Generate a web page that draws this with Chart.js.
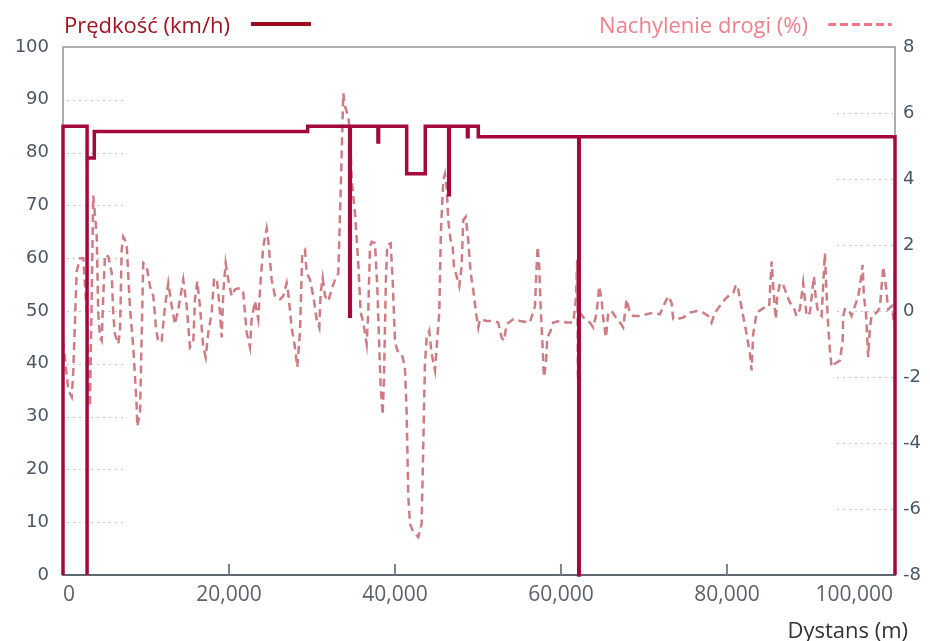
<!DOCTYPE html>
<html>
<head>
<meta charset="utf-8">
<script src="https://cdn.jsdelivr.net/npm/chart.js@4/dist/chart.umd.min.js"></script>
<style>
  body { margin: 0; background: #fff; }
  #wrap { position: relative; width: 930px; height: 641px; }
  .leg { position: absolute; top: 9px; font-family: "Open Sans"; font-size: 22px; display: flex; align-items: center; white-space: nowrap; }
  #legSpeed { left: 64px; color: #a0141f; }
  #legSpeed .smp { width: 60px; height: 4px; background: #9c0b20; margin-left: 21px; }
  #legGrade { right: 38px; color: #f07f8c; }
  #legGrade .smp { width: 64px; height: 3px; margin-left: 20px; background: repeating-linear-gradient(to right, #f27585 0 8px, transparent 8px 12px); border-radius: 2px; }
  #xTitle { position: absolute; right: 22px; top: 614px; font-family: "Open Sans"; font-size: 22px; color: #333; }
</style>
</head>
<body>
<div id="wrap">
  <canvas id="grafico" width="930" height="641"></canvas>
  <div class="leg" id="legSpeed"><span>Prędkość (km/h)</span><div class="smp"></div></div>
  <div class="leg" id="legGrade"><span>Nachylenie drogi (%)</span><div class="smp"></div></div>
  <div id="xTitle">Dystans (m)</div>
</div>
<script>
// tick labels
const xTicks = [0, 20000, 40000, 60000, 80000, 100000];
const speedTicks = [0, 10, 20, 30, 40, 50, 60, 70, 80, 90, 100];
const gradeTicks = [-8, -6, -4, -2, 0, 2, 4, 6, 8];

// speed (km/h), each value holds until the next distance
const speedDist = [0, 0, 2900, 2900, 3770, 29480, 34540, 34620, 37950, 38030, 41410, 43650, 46470, 46550, 48730, 48810, 50040, 62140, 62200, 100250];
const speedVal  = [0, 85, 0, 79, 84, 85, 49, 85, 82, 85, 76, 85, 72, 85, 83, 85, 83, 0, 83, 0];

// road gradient (%)
const gradeDist = [0,640,1050,1240,1650,2050,2450,2860,3050,3250,
  3650,4060,4250,4460,4660,4860,5060,5460,5870,6060,
  6260,6660,6870,7070,7260,7670,7870,8070,8470,8880,
  8950,9280,9670,10080,10480,10880,11200,11480,11890,12290,
  12690,13100,13490,13890,14490,14900,15300,15700,15900,16180,
  16500,16900,17190,17510,17920,18190,18520,18710,18920,19120,
  19310,19600,19920,20320,20720,21330,21720,22130,22530,22730,
  23130,23530,23820,24130,24540,24730,25140,25540,26140,26540,
  26950,27140,27550,27950,28230,28550,28830,29160,29360,29760,
  30160,30560,30880,31050,31290,31570,31960,32370,32770,33170,
  33460,33770,33980,34370,34580,34780,35180,35580,35870,36180,
  36590,36780,36990,37190,37590,37870,38110,38280,38520,38670,
  38910,39070,39480,39720,40000,40280,40810,41200,41410,41600,
  41810,42200,42810,43210,43410,43610,43820,44130,44420,44820,
  45020,45340,45540,45820,46020,46230,46420,46710,46950,47110,
  47430,47750,48030,48230,48520,48830,49120,49430,49760,50040,
  50240,51050,51840,52440,52850,53130,53460,54250,55060,56260,
  56870,57070,57190,57380,57550,57790,57950,58190,58350,58670,
  59070,59880,60680,61480,61800,61960,62050,62080,62290,62890,
  63490,63890,64300,64610,64900,65100,65420,65700,66100,66500,
  67110,67500,67910,68310,68710,69520,70320,71120,71930,72530,
  72930,73330,73530,73940,74730,75540,76340,77140,77740,78150,
  78550,79150,79760,80360,80760,81090,81360,81570,81960,82370,
  82770,82970,83160,83580,84180,84780,85090,85260,85380,85580,
  85780,85900,86060,86390,86780,87190,87590,87990,88390,88790,
  89190,89390,89600,90000,90480,90720,91000,91410,91800,92000,
  92210,92410,92610,93010,93610,93940,94010,94210,94620,95020,
  95420,95820,96020,96350,96500,96750,97020,97230,97430,98030,
  98430,98830,99160,99430,99840,100240];
const gradeVal = [-0.9,-2.4,-2.6,-1.8,1.2,1.6,1.6,-0.1,-1.6,-2.9,
  3.5,2.3,-0.1,-0.8,-0.9,0.5,1.7,1.65,1.15,-0.1,
  -0.7,-1.0,-0.6,1.85,2.25,2.05,1.05,0.1,-1.1,-2.9,
  -3.5,-3.1,1.45,1.35,0.75,0.45,-0.5,-0.95,-0.9,0.15,
  0.85,0.15,-0.4,0.05,0.95,0.15,-1.1,-0.95,0.35,0.9,
  0.15,-1.1,-1.4,-0.65,-0.05,0.95,1.0,0.55,-0.05,-0.8,
  0.55,1.45,0.95,0.45,0.65,0.7,0.55,-0.65,-1.1,-0.25,
  0.3,-0.25,0.95,1.95,2.5,2.15,0.95,0.45,0.35,0.45,
  0.85,0.55,-0.5,-1.1,-1.7,-0.65,1.75,1.85,1.15,0.95,
  0.45,-0.25,-0.5,0.55,1.0,0.45,0.3,0.65,0.95,1.15,
  3.65,6.6,6.2,5.9,5.4,4.0,2.95,1.45,-0.05,-0.35,
  -1.0,-0.05,1.95,2.1,2.05,0.75,-1.1,-2.3,-3.15,-2.1,
  0.95,2.0,2.05,0.95,-0.9,-1.2,-1.3,-1.7,-3.1,-5.6,
  -6.45,-6.7,-6.85,-6.45,-4.1,-1.6,-0.8,-0.6,-1.3,-1.8,
  -1.1,-0.05,2.45,3.95,4.15,3.75,2.75,2.15,1.95,1.35,
  1.05,0.75,1.35,2.75,2.85,2.15,1.15,0.65,-0.05,-0.5,
  -0.25,-0.3,-0.3,-0.35,-0.8,-0.9,-0.4,-0.25,-0.3,-0.35,
  0.15,1.35,1.95,1.35,0.15,-1.1,-2.0,-1.6,-0.8,-0.65,
  -0.35,-0.3,-0.35,-0.35,0.35,1.55,-2.1,0.35,-0.05,-0.25,
  -0.35,-0.5,-0.05,0.75,0.35,-0.25,-0.8,-0.05,0,-0.15,
  -0.35,-0.5,0.35,-0.05,-0.15,-0.15,-0.1,-0.05,-0.1,0.25,
  0.45,0.25,-0.25,-0.25,-0.2,-0.05,0,-0.05,-0.15,-0.35,
  -0.05,0.15,0.35,0.5,0.55,0.8,0.65,0.35,-0.15,-0.7,
  -1.3,-1.8,-0.7,-0.05,0.05,0.15,0.15,0.95,1.5,0.75,
  0.05,-0.25,0.45,0.85,0.8,0.5,0.25,0.15,-0.15,0.05,
  0.85,0.35,-0.15,-0.05,1.05,0.35,-0.05,-0.15,1.75,0.55,
  -0.5,-1.2,-1.7,-1.6,-1.5,-0.9,-0.15,0.05,0.05,-0.15,
  0.15,0.45,0.75,1.4,0.45,-0.05,-1.4,-0.5,-0.15,-0.05,
  0.1,1.35,0.75,0.05,0.15,-0.5];

const speedData = speedDist.map((d, i) => ({ x: d, y: speedVal[i] }));
const gradeData = gradeDist.map((d, i) => ({ x: d, y: gradeVal[i] }));

// box, short dotted grid stubs and x tick marks
const frame = {
  id: 'frame',
  beforeDatasetsDraw(chart) {
    const { ctx, chartArea: a, scales } = chart;
    ctx.save();
    ctx.strokeStyle = '#bfc4c9';
    ctx.lineWidth = 1;
    ctx.setLineDash([2, 4]);
    speedTicks.slice(1, -1).forEach(v => {
      const y = Math.round(scales.y.getPixelForValue(v)) + 0.5;
      ctx.beginPath(); ctx.moveTo(a.left + 4, y); ctx.lineTo(a.left + 60, y); ctx.stroke();
    });
    gradeTicks.slice(1, -1).forEach(v => {
      const y = Math.round(scales.y1.getPixelForValue(v)) + 0.5;
      ctx.beginPath(); ctx.moveTo(a.right - 58, y); ctx.lineTo(a.right - 2, y); ctx.stroke();
    });
    ctx.setLineDash([]);
    ctx.strokeStyle = '#8d949c';
    ctx.lineWidth = 1.5;
    ctx.beginPath();
    ctx.moveTo(a.left, a.bottom); ctx.lineTo(a.left, a.top); ctx.lineTo(a.right, a.top); ctx.lineTo(a.right, a.bottom);
    ctx.stroke();
    ctx.strokeStyle = '#7b828a';
    ctx.lineWidth = 2;
    xTicks.slice(1, -1).forEach(v => {
      const x = scales.x.getPixelForValue(v);
      ctx.beginPath(); ctx.moveTo(x, a.bottom - 11); ctx.lineTo(x, a.bottom); ctx.stroke();
    });
    ctx.restore();
  }
};

const tickFontY = { family: 'DejaVu Sans', size: 18 };

new Chart(document.getElementById('grafico').getContext('2d'), {
  type: 'line',
  data: {
    datasets: [{
      label: 'Prędkość (km/h)',
      data: speedData,
      yAxisID: 'y',
      borderColor: '#a3093c',
      borderWidth: 3.5,
      stepped: 'before',
      pointRadius: 0,
      clip: false,
      order: 0
    }, {
      label: 'Nachylenie drogi (%)',
      data: gradeData,
      yAxisID: 'y1',
      borderColor: '#cd7c83',
      borderWidth: 2.5,
      borderDash: [8, 5],
      pointRadius: 0,
      tension: 0,
      order: 1
    }]
  },
  options: {
    responsive: false,
    animation: false,
    layout: { padding: { top: 47, left: 0, right: 0, bottom: 0 } },
    plugins: { legend: { display: false }, tooltip: { enabled: false } },
    scales: {
      x: {
        type: 'linear',
        min: 0,
        max: 100250,
        afterBuildTicks: s => { s.ticks = xTicks.map(v => ({ value: v })); },
        afterFit: s => { s.height = 66; },
        grid: { display: false, drawTicks: false },
        border: { color: '#5f6872', width: 2 },
        ticks: {
          font: { family: 'Open Sans', size: 21 },
          color: '#5b6169',
          padding: 7,
          align: 'inner',
          maxRotation: 0,
          autoSkip: false,
          callback: v => v.toLocaleString('en-US')
        }
      },
      y: {
        position: 'left',
        min: 0,
        max: 100,
        afterBuildTicks: s => { s.ticks = speedTicks.map(v => ({ value: v })); },
        afterFit: s => { s.width = 63; },
        grid: { display: false, drawTicks: false },
        border: { display: false },
        ticks: { font: tickFontY, color: '#4a5663', padding: 14, align: 'inner' }
      },
      y1: {
        position: 'right',
        min: -8,
        max: 8,
        afterBuildTicks: s => { s.ticks = gradeTicks.map(v => ({ value: v })); },
        afterFit: s => { s.width = 35; },
        grid: { display: false, drawTicks: false },
        border: { display: false },
        ticks: { font: tickFontY, color: '#4a5663', padding: 8, align: 'inner' }
      }
    }
  },
  plugins: [frame]
});
</script>
</body>
</html>
